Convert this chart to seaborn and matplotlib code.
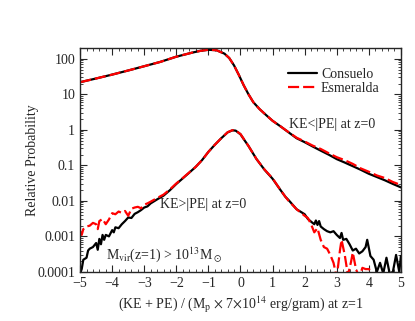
import numpy as np
import pandas as pd
import matplotlib
matplotlib.use('Agg')
import matplotlib.pyplot as plt
import seaborn as sns
from matplotlib.ticker import MultipleLocator, LogLocator, NullFormatter, FixedLocator, FixedFormatter

# upper population: KE<|PE| at z=0
bound_x = [-5, -4.5, -4, -3.5, -3, -2.5, -2, -1.5, -1.25, -1, -0.75, -0.5, -0.35, -0.2,
           -0.05, 0.1, 0.25, 0.4, 0.6, 0.8, 1.0, 1.25, 1.5, 1.75, 2.0, 2.25, 2.5,
           2.75, 3.0, 3.25, 3.5, 3.75, 4.0, 4.25, 4.5, 4.75, 5.0]
bound_consuelo = [22, 28, 36, 47, 62, 82, 115, 150, 168, 180, 175, 140, 105, 65,
                  35, 18, 10, 6.0, 3.8, 2.6, 1.8, 1.25, 0.85, 0.58, 0.45, 0.34, 0.26,
                  0.2, 0.15, 0.12, 0.095, 0.075, 0.058, 0.047, 0.038, 0.03, 0.024]
bound_esmeralda = [22, 28, 36, 47, 62, 82, 115, 150, 168, 180, 175, 140, 105, 65,
                   35, 18, 10, 6.0, 3.8, 2.6, 1.8, 1.25, 0.86, 0.6, 0.47, 0.36, 0.29,
                   0.22, 0.17, 0.14, 0.11, 0.082, 0.066, 0.052, 0.044, 0.034, 0.028]

# lower population: KE>|PE| at z=0
unb_x_c = [-5.0, -4.95, -4.9, -4.8, -4.75, -4.7, -4.6, -4.5, -4.45, -4.4, -4.35, -4.3,
           -4.25, -4.2, -4.1, -4.0, -3.95, -3.9, -3.8, -3.7, -3.6, -3.5, -3.4, -3.3,
           -3.2, -3.1, -3.0, -2.9, -2.8, -2.6, -2.4, -2.2, -2.0, -1.8, -1.6, -1.4,
           -1.2, -1.0, -0.8, -0.6, -0.4, -0.25, -0.15, 0.0, 0.1, 0.25, 0.5, 0.75,
           1.0, 1.25, 1.4, 1.5, 1.75, 2.0, 2.1, 2.2, 2.3, 2.35, 2.4, 2.45, 2.5,
           2.6, 2.7, 2.8, 2.9, 3.0, 3.1, 3.15, 3.2, 3.3, 3.4, 3.5, 3.6, 3.7, 3.8,
           3.9, 3.95, 4.05, 4.15, 4.25, 4.35, 4.45, 4.55, 4.65, 4.75, 4.85, 4.95, 5.0]
unb_consuelo = [0.00009, 0.00012, 0.00022, 0.00025, 0.0004, 0.00045, 0.0005, 0.00065,
                0.00042, 0.00085, 0.0006, 0.0011, 0.0008, 0.0011, 0.001, 0.0015,
                0.0013, 0.0018, 0.0017, 0.0022, 0.0027, 0.0034, 0.0033, 0.0043,
                0.0048, 0.0055, 0.0065, 0.007, 0.0085, 0.011, 0.014, 0.02, 0.03,
                0.043, 0.062, 0.09, 0.14, 0.24, 0.38, 0.58, 0.85, 0.97, 0.95, 0.75,
                0.55, 0.35, 0.15, 0.075, 0.042, 0.02, 0.013, 0.0105, 0.0058, 0.0042,
                0.0031, 0.0026, 0.0022, 0.0028, 0.0021, 0.0027, 0.0019, 0.0016, 0.0014,
                0.0013, 0.0014, 0.0011, 0.0009, 0.00125, 0.0008, 0.00085, 0.0006,
                0.0004, 0.00045, 0.00033, 0.00038, 0.0005, 0.0008, 0.00028, 0.00022,
                0.0001, 0.00018, 0.00009, 0.00025, 0.00009, 0.0001, 0.0003, 0.0001,
                0.00028]

unb_x_e = [-5.0, -4.95, -4.9, -4.8, -4.7, -4.6, -4.5, -4.45, -4.4, -4.3, -4.2, -4.1,
           -4.0, -3.9, -3.8, -3.7, -3.6, -3.5, -3.4, -3.3, -3.2, -3.1, -3.0, -2.9,
           -2.8, -2.6, -2.4, -2.2, -2.0, -1.8, -1.6, -1.4, -1.2, -1.0, -0.8, -0.6,
           -0.4, -0.25, -0.15, 0.0, 0.1, 0.25, 0.5, 0.75, 1.0, 1.25, 1.4, 1.5, 1.75,
           2.0, 2.1, 2.2, 2.3, 2.4, 2.5, 2.6, 2.7, 2.8, 2.9, 3.0, 3.1, 3.15, 3.25,
           3.35, 3.45, 3.5, 3.6, 3.7, 3.8, 3.9, 4.0, 4.1, 4.2]
unb_esmeralda = [0.0014, 0.0011, 0.0016, 0.0019, 0.002, 0.0024, 0.0022, 0.0016,
                 0.0027, 0.0031, 0.0022, 0.003, 0.0045, 0.0042, 0.005, 0.0046,
                 0.0052, 0.0038, 0.006, 0.0065, 0.0068, 0.0062, 0.0078, 0.0085,
                 0.0095, 0.012, 0.015, 0.021, 0.031, 0.044, 0.063, 0.09, 0.14, 0.24,
                 0.38, 0.58, 0.86, 0.98, 0.96, 0.76, 0.56, 0.35, 0.15, 0.076, 0.043,
                 0.02, 0.013, 0.01, 0.0058, 0.0038, 0.0033, 0.0022, 0.0013, 0.0017,
                 0.0008, 0.0005, 0.00045, 0.0003, 0.00018, 0.00007, 0.0004, 0.0008,
                 0.0003, 0.00008, 0.0002, 0.00035, 0.00012, 0.00007, 0.00013, 0.00012,
                 0.00012, 0.0001, 0.00006]

y_ticks = [0.0001, 0.001, 0.01, 0.1, 1, 10, 100]
y_ticklabels = ['0.0001', '0.001', '0.01', '0.1', '1', '10', '100']

sns.set_style('ticks')
plt.rcParams['font.family'] = ['Liberation Serif', 'DejaVu Serif']
plt.rcParams['mathtext.fontset'] = 'stix'
plt.rcParams['font.size'] = 10

fig = plt.figure(figsize=(4.15, 3.21), dpi=100)
ax = fig.add_axes([0.193, 0.153, 0.773, 0.697])

sns.lineplot(x=bound_x, y=bound_consuelo, color='black', lw=1.6, ax=ax, label='Consuelo', sort=False)
sns.lineplot(x=bound_x, y=bound_esmeralda, color='red', lw=1.6, ax=ax, label='Esmeralda', sort=False)
sns.lineplot(x=unb_x_c, y=unb_consuelo, color='black', lw=1.6, ax=ax, sort=False)
sns.lineplot(x=unb_x_e, y=unb_esmeralda, color='red', lw=1.6, ax=ax, sort=False)
ax.lines[1].set_dashes([5, 1.8])
ax.lines[3].set_dashes([5, 1.8])

ax.set_yscale('log')
ax.set_xlim(-5, 5)
ax.set_ylim(0.0001, 200)
ax.xaxis.set_major_locator(MultipleLocator(1))
ax.xaxis.set_minor_locator(MultipleLocator(0.2))
ax.yaxis.set_major_locator(FixedLocator(y_ticks))
ax.yaxis.set_major_formatter(FixedFormatter(y_ticklabels))
ax.yaxis.set_minor_locator(LogLocator(base=10, subs=np.arange(2, 10), numticks=20))
ax.yaxis.set_minor_formatter(NullFormatter())
ax.tick_params(which='both', direction='in', top=True, right=True, labelsize=10)
ax.tick_params(which='major', length=5, width=0.8)
ax.tick_params(which='minor', length=2.5, width=0.6)
for s in ax.spines.values():
    s.set_linewidth(1.0)

ax.set_xlabel(r'(KE + PE) / (M$_\mathrm{p}$ $\times$ 7$\times$10$^{14}$ erg/gram) at z=1', fontsize=10)
ax.set_ylabel('Relative Probability', fontsize=10)
ax.yaxis.set_label_coords(-0.128, 0.5)

ax.text(1.5, 1.38, 'KE<|PE| at z=0', fontsize=10, va='center')
ax.text(-2.5, 0.0079, 'KE>|PE| at z=0', fontsize=10, va='center')
ax.text(-4.2, 0.0003, r'M$_\mathrm{vir}$(z=1) > 10$^{13}$M$_\odot$', fontsize=10, va='center')

ax.legend(loc='upper right', bbox_to_anchor=(0.96, 0.95), frameon=False, fontsize=10,
          handlelength=2.1, handletextpad=0.3, labelspacing=0.1, borderaxespad=0.2)

plt.savefig('out.png', dpi=100)
